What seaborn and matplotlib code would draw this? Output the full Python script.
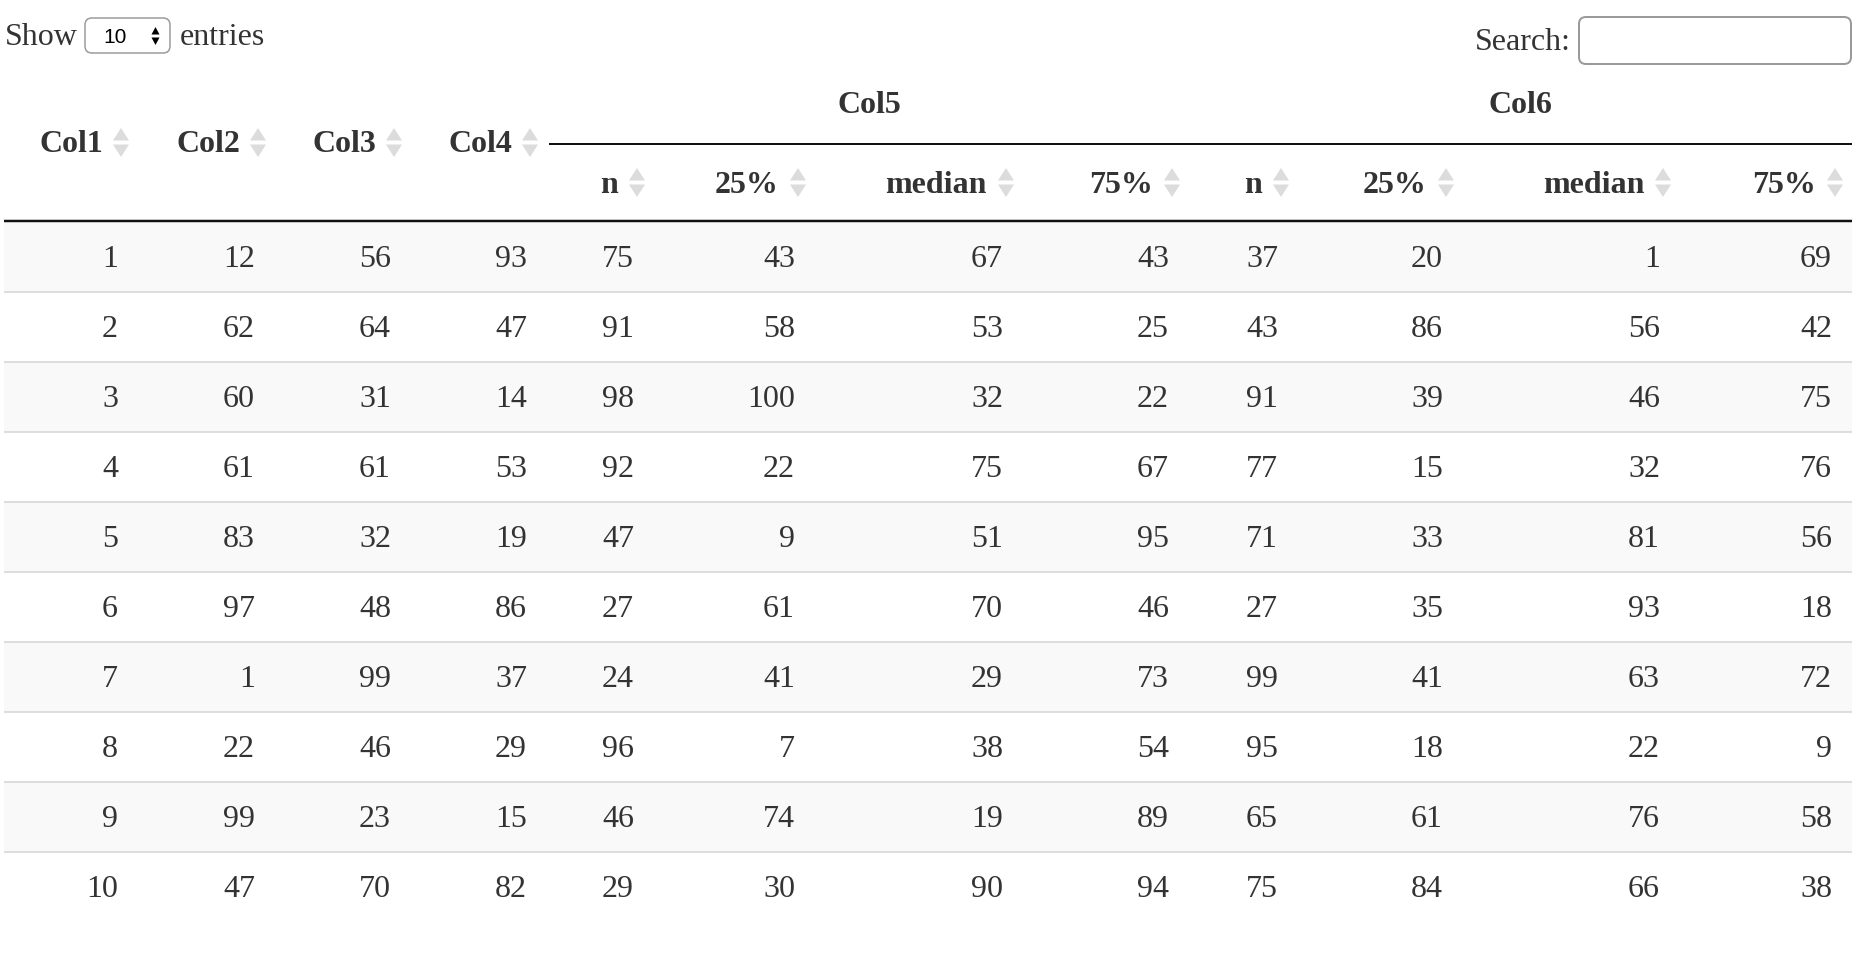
import matplotlib
matplotlib.use("Agg")
import matplotlib.pyplot as plt
from matplotlib.patches import FancyBboxPatch, Rectangle, Polygon
import pandas as pd
import seaborn as sns

# data of the table
col_names = ["Col1", "Col2", "Col3", "Col4"]
group_names = ["Col5", "Col6"]
sub_names = ["n", "25%", "median", "75%"]

col1 = [1, 2, 3, 4, 5, 6, 7, 8, 9, 10]
col2 = [12, 62, 60, 61, 83, 97, 1, 22, 99, 47]
col3 = [56, 64, 31, 61, 32, 48, 99, 46, 23, 70]
col4 = [93, 47, 14, 53, 19, 86, 37, 29, 15, 82]
col5_n = [75, 91, 98, 92, 47, 27, 24, 96, 46, 29]
col5_q25 = [43, 58, 100, 22, 9, 61, 41, 7, 74, 30]
col5_median = [67, 53, 32, 75, 51, 70, 29, 38, 19, 90]
col5_q75 = [43, 25, 22, 67, 95, 46, 73, 54, 89, 94]
col6_n = [37, 43, 91, 77, 71, 27, 99, 95, 65, 75]
col6_q25 = [20, 86, 39, 15, 33, 35, 41, 18, 61, 84]
col6_median = [1, 56, 46, 32, 81, 93, 63, 22, 76, 66]
col6_q75 = [69, 42, 75, 76, 56, 18, 72, 9, 58, 38]

df = pd.DataFrame({
    "Col1": col1, "Col2": col2, "Col3": col3, "Col4": col4,
    "Col5 n": col5_n, "Col5 25%": col5_q25, "Col5 median": col5_median, "Col5 75%": col5_q75,
    "Col6 n": col6_n, "Col6 25%": col6_q25, "Col6 median": col6_median, "Col6 75%": col6_q75,
})

sns.set_theme(style="white")
plt.rcParams['font.family'] = ['Liberation Serif', 'DejaVu Serif']

W, H = 1864, 956
fig = plt.figure(figsize=(W / 100, H / 100), dpi=100)
ax = fig.add_axes([0, 0, 1, 1])
ax.set_xlim(0, W)
ax.set_ylim(H, 0)
ax.axis("off")

txt = "#333333"
fs = 23
px = 0.72  # points per pixel at dpi 100

# layout (pixels)
right_edges = [118, 255, 391, 527, 634, 795, 1003, 1169, 1278, 1443, 1660, 1832]
left, right = 4, 1852
head_line = 221
row_h = 70


def sort_icon(cx, cy):
    ax.add_patch(Polygon([[cx, cy - 14], [cx - 8, cy - 1.5], [cx + 8, cy - 1.5]], color="#dcdcdc", lw=0))
    ax.add_patch(Polygon([[cx, cy + 15], [cx - 8, cy + 2.5], [cx + 8, cy + 2.5]], color="#dcdcdc", lw=0))


# top controls
ax.text(5, 45, "Show", fontsize=fs, color=txt)
ax.add_patch(FancyBboxPatch((85, 18), 85, 35, boxstyle="round,pad=0,rounding_size=7",
                            fc="white", ec="#9a9a9a", lw=1.5 * px))
ax.text(103, 43, "10", fontsize=15, color="black", family="Liberation Sans")
ax.add_patch(Polygon([[155.5, 27], [151.5, 34.5], [159.5, 34.5]], color="black", lw=0))
ax.add_patch(Polygon([[155.5, 45], [151.5, 37.5], [159.5, 37.5]], color="black", lw=0))
ax.text(180, 45, "entries", fontsize=fs, color=txt)

ax.text(1571, 50, "Search:", fontsize=fs, color=txt, ha="right")
ax.add_patch(FancyBboxPatch((1579, 17), 272, 47, boxstyle="round,pad=0,rounding_size=7",
                            fc="white", ec="#9a9a9a", lw=2 * px))

# header
for i, name in enumerate(col_names):
    ax.text(right_edges[i] - 15, 152, name, fontsize=fs, color=txt, ha="right", weight="bold")
    sort_icon(right_edges[i] + 3, 142)

group_x = [869, 1520]
for g, name in enumerate(group_names):
    ax.text(group_x[g], 113, name, fontsize=fs, color=txt, ha="center", weight="bold")
    for j, sub in enumerate(sub_names):
        r = right_edges[4 + g * 4 + j]
        ax.text(r - 16, 193, sub, fontsize=fs, color=txt, ha="right", weight="bold")
        sort_icon(r + 3, 182)

ax.plot([549, right], [144, 144], color="#111111", lw=2 * px, solid_capstyle="butt")
ax.plot([left, right], [head_line, head_line], color="#111111", lw=2.5 * px, solid_capstyle="butt")

# body rows
for k in range(len(df)):
    top = head_line + 1.5 + k * row_h
    if k % 2 == 0:
        ax.add_patch(Rectangle((left, top), right - left, row_h - 1, fc="#f9f9f9", ec="none"))
    if k > 0:
        ax.plot([left, right], [top - 0.5, top - 0.5], color="#dddddd", lw=2 * px, solid_capstyle="butt")
    for c, col in enumerate(df.columns):
        ax.text(right_edges[c], top + 44.5, str(df[col].iloc[k]), fontsize=fs, color=txt, ha="right")

fig.savefig("out.png", dpi=100, facecolor="white")
